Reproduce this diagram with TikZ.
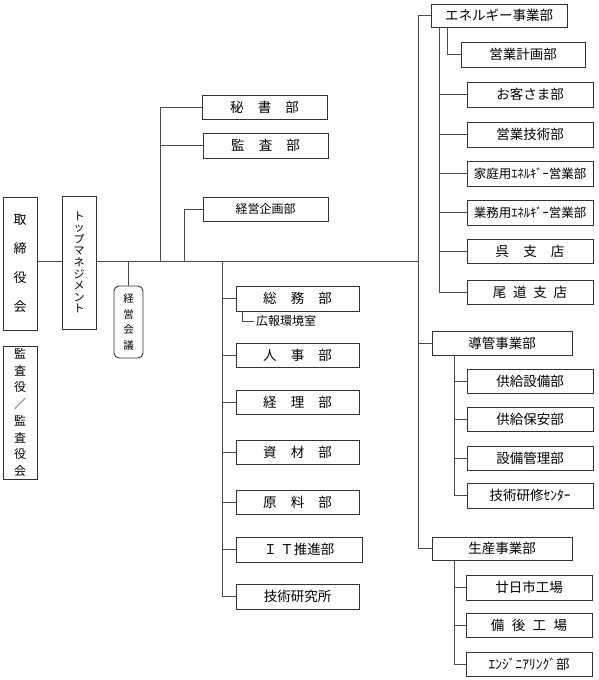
\documentclass[tikz,border=0pt]{standalone}
\usepackage{fontspec}
\newfontfamily\jp{Noto Sans CJK JP}
\begin{document}
\begin{tikzpicture}[x=1pt,y=-1pt,
  box/.style={draw=black!80, line width=0.9pt, fill=white, inner sep=0pt, align=center,
              font=\jp\fontsize{13.5}{15}\selectfont},
  dept/.style={box, minimum width=124pt, minimum height=24pt},
  subd/.style={box, minimum width=126pt, minimum height=24pt},
  divn/.style={box, minimum width=140pt, minimum height=24pt},
  conn/.style={draw=black!70, line width=0.9pt}]
\fill[white] (0,0) rectangle (598,680);
\useasboundingbox (0,0) rectangle (598,680);

% left column
\node[box, minimum width=34pt, minimum height=133pt, font=\jp\fontsize{13}{29}\selectfont] (tori) at (20,263.5) {取\\締\\役\\会};
\node[box, minimum width=34pt, minimum height=133pt, font=\jp\fontsize{11}{11.6}\selectfont] (top) at (79,262.5) {ト\\ッ\\プ\\マ\\ネ\\ジ\\メ\\ン\\ト};
\node[box, rounded corners=5pt, minimum width=29pt, minimum height=72pt, font=\jp\fontsize{10.5}{15.5}\selectfont] (kaigi) at (128.5,322) {経\\営\\会\\議};
\node[box, minimum width=34pt, minimum height=133pt, font=\jp\fontsize{12}{16.7}\selectfont] (kansayaku) at (20,412.5) {監\\査\\役\\／\\監\\査\\役\\会};

% upper staff
\node[dept, minimum width=125pt] (hisho) at (264.5,107) {秘\hspace{1.05em}書\hspace{1.05em}部};
\node[dept, minimum width=125pt, minimum height=25pt] (kansa) at (265.5,145.5) {監\hspace{1.05em}査\hspace{1.05em}部};
\node[dept, minimum width=125pt, font=\jp\fontsize{12}{13}\selectfont] (kikaku) at (265.5,209) {経営企画部};

% lower staff
\node[dept, minimum width=123pt, minimum height=25pt] (soumu) at (297.5,298.5) {総\hspace{1.05em}務\hspace{1.05em}部};
\node[anchor=west, inner sep=2pt, font=\jp\fontsize{12}{13}\selectfont] (kouhou) at (254,321) {広報環境室};
\node[dept, minimum width=123pt] (jinji) at (297.5,355) {人\hspace{1.05em}事\hspace{1.05em}部};
\node[dept, minimum width=123pt] (keiri) at (297.5,402) {経\hspace{1.05em}理\hspace{1.05em}部};
\node[dept, minimum width=123pt] (shizai) at (297.5,452) {資\hspace{1.05em}材\hspace{1.05em}部};
\node[dept, minimum width=123pt] (genryo) at (297.5,502) {原\hspace{1.05em}料\hspace{1.05em}部};
\node[dept, minimum width=126pt, minimum height=25pt] (it) at (299,549.5) {Ｉ\hspace{0.25em}Ｔ推進部};
\node[dept, minimum width=123pt, minimum height=25pt] (gken) at (297.5,596.5) {技術研究所};

% energy division
\node[box, minimum width=136pt, minimum height=23pt] (ene) at (499,15.5) {エネルギー事業部};
\node[dept, minimum height=25pt] (keikaku) at (523,54.5) {営業計画部};
\node[subd, minimum height=25pt] (okyaku) at (530,94.5) {お客さま部};
\node[subd, minimum height=25pt] (eigyogi) at (530,134.5) {営業技術部};
\node[subd, minimum height=25pt, font=\jp\fontsize{12.5}{14}\selectfont] (katei) at (530,173.5) {家庭用ｴﾈﾙｷﾞｰ営業部};
\node[subd, minimum height=25pt, font=\jp\fontsize{12.5}{14}\selectfont] (gyomu) at (530,212.5) {業務用ｴﾈﾙｷﾞｰ営業部};
\node[subd] (kure) at (530,251) {呉\hspace{1.05em}支\hspace{1.05em}店};
\node[subd] (onomichi) at (530,292) {尾\hspace{0.5em}道\hspace{0.5em}支\hspace{0.5em}店};

% pipeline division
\node[divn] (doukan) at (502,343) {導管事業部};
\node[subd] (kyosetsu) at (530,381.5) {供給設備部};
\node[subd] (hoan) at (530,419) {供給保安部};
\node[subd] (kanri) at (530,458) {設備管理部};
\node[subd, minimum height=25pt] (kenshu) at (530,495.5) {技術研修ｾﾝﾀｰ};

% production division
\node[divn, minimum height=23pt] (seisan) at (502,548.5) {生産事業部};
\node[subd, minimum height=25pt] (hatsuka) at (529,587.5) {廿日市工場};
\node[subd] (bingo) at (529,625) {備\hspace{0.55em}後\hspace{0.55em}工\hspace{0.55em}場};
\node[subd] (eng) at (529,664) {ｴﾝｼﾞﾆｱﾘﾝｸﾞ部};

% junctions
\coordinate (rj) at (418,261);
\coordinate (j1) at (160,261);
\coordinate (j2) at (184,261);
\coordinate (j4) at (222,261);
\coordinate (k0) at ([xshift=7pt]soumu.south west);
\coordinate (e1) at ([xshift=9pt]ene.south west);
\coordinate (e2) at ([xshift=17pt]ene.south west);
\coordinate (d1) at ([xshift=23pt]doukan.south west);
\coordinate (s1) at ([xshift=23pt]seisan.south west);

% connectors
\draw[conn] (tori.east |- rj) -- (top.west |- rj);
\draw[conn] (top.east |- rj) -- (rj);
\draw[conn] (kaigi.north |- rj) -- (kaigi.north);
\draw[conn] (j1) |- (hisho.west);
\draw[conn] (j1 |- kansa.west) -- (kansa.west);
\draw[conn] (j2) |- (kikaku.west);
\draw[conn] (j4) |- (gken.west);
\foreach \n in {soumu,jinji,keiri,shizai,genryo,it}
  \draw[conn] (j4 |- \n.west) -- (\n.west);
\draw[conn] (k0) |- (kouhou.west);

\draw[conn] (rj |- ene.west) -- (ene.west);
\draw[conn] (rj |- ene.west) -- (rj |- seisan.west) -- (seisan.west);
\draw[conn] (rj |- doukan.west) -- (doukan.west);

\draw[conn] (e2) |- (keikaku.west);
\draw[conn] (e1) |- (onomichi.west);
\foreach \n in {okyaku,eigyogi,katei,gyomu,kure}
  \draw[conn] (e1 |- \n.west) -- (\n.west);

\draw[conn] (d1) |- (kenshu.west);
\foreach \n in {kyosetsu,hoan,kanri}
  \draw[conn] (d1 |- \n.west) -- (\n.west);

\draw[conn] (s1) |- (eng.west);
\foreach \n in {hatsuka,bingo}
  \draw[conn] (s1 |- \n.west) -- (\n.west);
\end{tikzpicture}
\end{document}
